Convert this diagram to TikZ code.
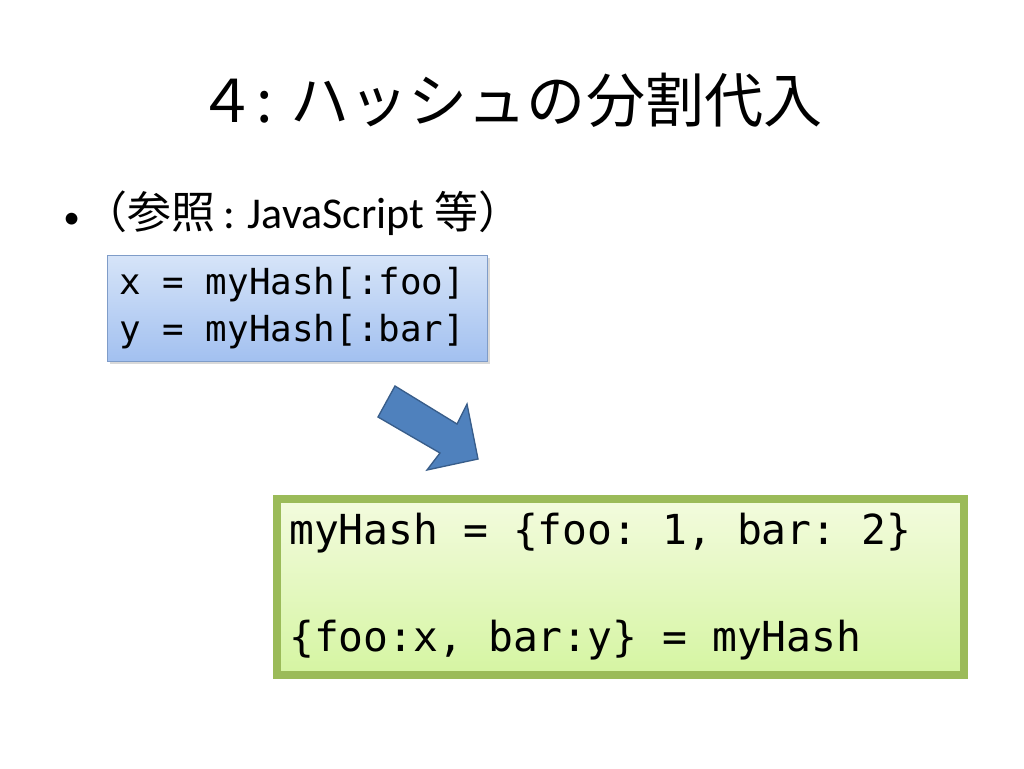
\documentclass[tikz,border=0pt]{standalone}
\usepackage{fontspec}
\setmainfont{Carlito}
\setmonofont{DejaVu Sans Mono}
\newfontfamily\cjk{Noto Sans CJK JP}
\usetikzlibrary{shadows}
\newcommand\msp{\phantom{x}}
\definecolor{bluetop}{HTML}{D6E4F8}
\definecolor{bluebot}{HTML}{A2C0F0}
\definecolor{blueedge}{HTML}{7F9CC8}
\definecolor{greentop}{HTML}{F3FBDE}
\definecolor{greenbot}{HTML}{D5F5A2}
\definecolor{greenedge}{HTML}{9BBB59}
\definecolor{arrowfill}{HTML}{4F81BD}
\definecolor{arrowedge}{HTML}{385D8A}
\tikzset{
  codebox/.style={rectangle, align=left, anchor=center, inner ysep=0pt,
    drop shadow={shadow xshift=1.5pt, shadow yshift=-2pt, opacity=0.3}},
  bluebox/.style={codebox, draw=blueedge, line width=0.9pt, top color=bluetop, bottom color=bluebot,
    text width=267pt, inner xsep=9pt, minimum width=285pt, minimum height=79.5pt,
    font=\ttfamily\fontsize{26.9}{35.25}\selectfont},
  greenbox/.style={codebox, draw=greenedge, line width=6pt, top color=greentop, bottom color=greenbot,
    text width=497pt, inner xsep=9pt, minimum width=515pt, minimum height=132pt,
    font=\ttfamily\fontsize{31}{40.1}\selectfont},
  blockarrow/.style={fill=arrowfill, draw=arrowedge, line width=1pt, line join=miter}
}
\begin{document}
\begin{tikzpicture}[x=0.75pt, y=-0.75pt]
\useasboundingbox (0,0) rectangle (1024,768);
\node (title) at (510,100) {\cjk\fontsize{44.3}{50}\selectfont ４: ハッシュの分割代入};
\node[anchor=west, inner sep=0pt, font=\fontsize{33}{40}\selectfont] (bullet) at (63,213)
  {{\fontsize{25}{40}\selectfont •}\hspace{3pt}{\cjk （参照}\,:\ \hspace{2pt}JavaScript {\cjk 等）}};
\node[bluebox] (blue) at (297.5,308.5) {x\msp=\msp{}myHash[:foo]\\y\msp=\msp{}myHash[:bar]};
\node[greenbox] (green) at (620.5,587) {myHash\msp=\msp\{foo:\msp{}1,\msp{}bar:\msp{}2\}\\\mbox{}\\\{foo:x,\msp{}bar:y\}\msp=\msp{}myHash};
\draw[blockarrow] (395,386) -- (457,424) -- (467,404) -- (478,459) -- (427,470) -- (440,453) -- (378,417) -- cycle;
\end{tikzpicture}
\end{document}
